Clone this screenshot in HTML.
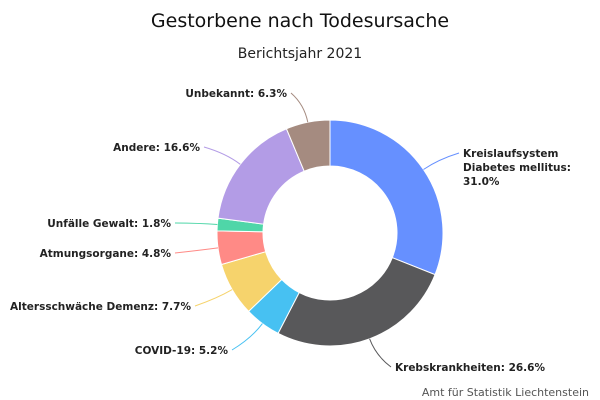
<!DOCTYPE html>
<html><head><meta charset="utf-8"><style>
body{margin:0;background:#fff}
svg{display:block;font-family:"DejaVu Sans","Liberation Sans",sans-serif}
</style></head><body>
<svg id="chart" width="600" height="400">
<rect width="600" height="400" fill="#fff"/>
<text x="300" y="27" text-anchor="middle" font-size="19" fill="#111">Gestorbene nach Todesursache</text>
<text x="300" y="58" text-anchor="middle" font-size="14" fill="#222">Berichtsjahr 2021</text>
<text x="589" y="396" text-anchor="end" font-size="11" fill="#555">Amt für Statistik Liechtenstein</text>
<g id="slices"></g><g id="labels"></g>
</svg>
<script>
const categories=["Kreislaufsystem|Diabetes mellitus:","Krebskrankheiten:","COVID-19:","Altersschwäche Demenz:","Atmungsorgane:","Unfälle Gewalt:","Andere:","Unbekannt:"];
const values=[31.0,26.6,5.2,7.7,4.8,1.8,16.6,6.3];
const valueLabels=["31.0%","26.6%","5.2%","7.7%","4.8%","1.8%","16.6%","6.3%"];
const colors=["#6690ff","#58585a","#47c1f2","#f6d36c","#ff8a86","#4fd6a8","#b39ce6","#a58b80"];
// layout: label anchor positions
const labelPos=[[463,157,"start"],[395,371,"start"],[228,354,"end"],[191,310,"end"],[171,257,"end"],[171,227,"end"],[200,151,"end"],[287,97,"end"]];
const cx=330,cy=233,R=113,r=67,ns="http://www.w3.org/2000/svg";
const total=values.reduce((a,b)=>a+b,0);
const sg=document.getElementById('slices'),lg=document.getElementById('labels');
function pt(a,rad){return [cx+rad*Math.sin(a),cy-rad*Math.cos(a)];}
let acc=0;
values.forEach((v,i)=>{
 const a0=acc/total*2*Math.PI; acc+=v; const a1=acc/total*2*Math.PI;
 const large=(a1-a0)>Math.PI?1:0;
 const p0=pt(a0,R),p1=pt(a1,R),q1=pt(a1,r),q0=pt(a0,r);
 const p=document.createElementNS(ns,'path');
 p.setAttribute('d',`M${p0}A${R},${R} 0 ${large} 1 ${p1}L${q1}A${r},${r} 0 ${large} 0 ${q0}Z`);
 p.setAttribute('fill',colors[i]);p.setAttribute('stroke','#fff');p.setAttribute('stroke-width','1');
 
 
 sg.appendChild(p);
 const am=(a0+a1)/2,s=pt(am,R),c=pt(am,R+18);
 const [lx,ly,anc]=labelPos[i];
 const ex=anc==="start"?lx-4:lx+4, ey=ly-4;
 const l=document.createElementNS(ns,'path');
 l.setAttribute('d',`M${s}Q${c} ${ex},${ey}`);
 l.setAttribute('fill','none');l.setAttribute('stroke',colors[i]);l.setAttribute('stroke-width','1');
 
 
 lg.appendChild(l);
 const t=document.createElementNS(ns,'text');
 t.setAttribute('x',lx);t.setAttribute('y',ly);t.setAttribute('text-anchor',anc);
 t.setAttribute('font-size','10.5');t.setAttribute('font-weight','bold');t.setAttribute('fill','#222');
 
 
 const parts=categories[i].split('|');
 if(parts.length>1){
  parts.concat([valueLabels[i]]).forEach((s2,k)=>{const ts=document.createElementNS(ns,'tspan');ts.setAttribute('x',lx);ts.setAttribute('dy',k?14:0);ts.textContent=s2;t.appendChild(ts);});
 } else t.textContent=parts[0]+' '+valueLabels[i];
 lg.appendChild(t);
});
</script>
</body></html>
